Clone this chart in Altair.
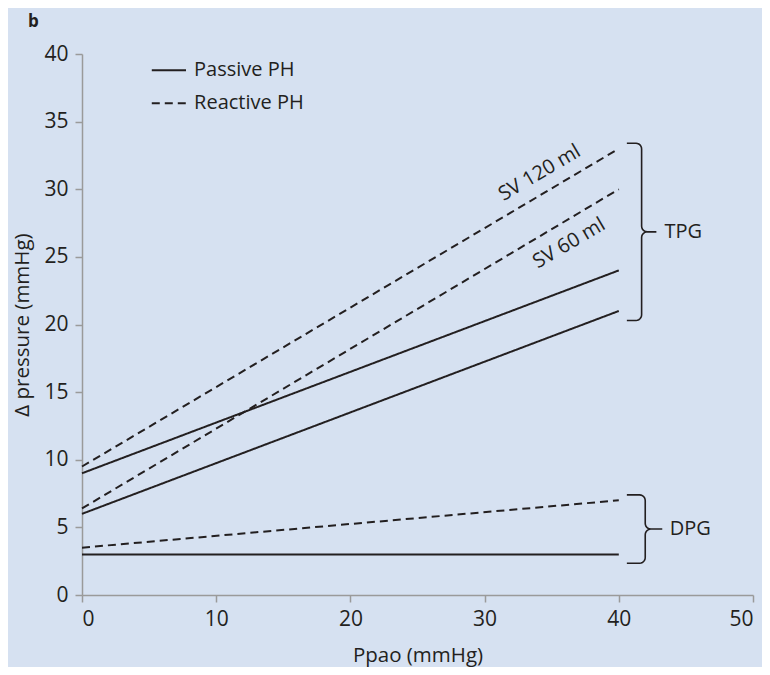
import altair as alt
import pandas as pd
import numpy as np

# ---- data ----
line_ids = ["P_high", "P_low", "P_dpg", "R_high", "R_low", "R_dpg"]
line_type = ["Passive PH", "Passive PH", "Passive PH", "Reactive PH", "Reactive PH", "Reactive PH"]
x_from = [0, 0, 0, 0, 0, 0]
x_to = [40, 40, 40, 40, 40, 40]
y_from = [9, 6, 3, 9.5, 6.4, 3.5]
y_to = [24, 21, 3, 33, 30, 7]

legend_labels = ["Passive PH", "Reactive PH"]
legend_y = [38.8, 36.35]
legend_x0 = [5.2, 5.2]
legend_x1 = [7.75, 7.75]
legend_tx = [8.35, 8.35]

sv_labels = ["SV 120 ml", "SV 60 ml"]
sv_x = [34.1, 36.3]
sv_y = [31.2, 26.0]

brace_labels = ["TPG", "DPG"]
brace_top = [33.4, 7.4]
brace_bottom = [20.3, 2.35]
brace_left = [40.6, 40.6]
brace_spine = [41.7, 41.97]
brace_tip = [42.8, 43.24]
brace_text_x = [43.4, 43.8]

FONT = "Open Sans"
FS = 20
INK = "#231f20"
AXIS = "#9a9a9a"
BG = "#d6e1f1"

# ---- tables ----
rows = []
for i, lid in enumerate(line_ids):
    rows.append({"id": lid, "type": line_type[i], "x": x_from[i], "y": y_from[i], "o": 0})
    rows.append({"id": lid, "type": line_type[i], "x": x_to[i], "y": y_to[i], "o": 1})
lines_df = pd.DataFrame(rows)

leg_rows = []
for i, lab in enumerate(legend_labels):
    leg_rows.append({"id": lab, "type": lab, "x": legend_x0[i], "y": legend_y[i], "o": 0})
    leg_rows.append({"id": lab, "type": lab, "x": legend_x1[i], "y": legend_y[i], "o": 1})
leg_df = pd.DataFrame(leg_rows)
leg_txt = pd.DataFrame({"x": legend_tx, "y": legend_y, "t": legend_labels})

sv_df = pd.DataFrame({"x": sv_x, "y": sv_y, "t": sv_labels})


def brace_points(name, top, bot, left, spine, tip, r=0.42, n=6):
    mid = (top + bot) / 2.0
    pts = []
    pts.append((left, top))
    for k in range(n + 1):
        a = np.pi / 2 * (1 - k / n)
        pts.append((spine - r + r * np.cos(a), top - r + r * np.sin(a)))
    for k in range(n + 1):
        a = np.pi - np.pi / 2 * (k / n)
        pts.append((spine + r + r * np.cos(a), mid + r - r * np.sin(a)))
    pts.append((tip, mid))
    pts.append((spine + r, mid))
    for k in range(n + 1):
        a = np.pi / 2 + np.pi / 2 * (k / n)
        pts.append((spine + r + r * np.cos(a), mid - r + r * np.sin(a)))
    for k in range(n + 1):
        a = np.pi / 2 * (k / n)
        pts.append((spine - r + r * np.cos(a), bot + r - r * np.sin(a)))
    pts.append((left, bot))
    return [{"id": name, "x": float(px), "y": float(py), "o": j} for j, (px, py) in enumerate(pts)]


brace_rows = []
for i, lab in enumerate(brace_labels):
    brace_rows += brace_points(lab, brace_top[i], brace_bottom[i], brace_left[i], brace_spine[i], brace_tip[i])
brace_df = pd.DataFrame(brace_rows)
brace_txt = pd.DataFrame({
    "x": brace_text_x,
    "y": [(t + b) / 2 for t, b in zip(brace_top, brace_bottom)],
    "t": brace_labels,
})

xscale = alt.Scale(domain=[0, 50], nice=False)
yscale = alt.Scale(domain=[0, 40], nice=False)
dash_scale = alt.Scale(domain=["Passive PH", "Reactive PH"], range=[[1, 0], [8, 5]])

xaxis = alt.Axis(title="Ppao (mmHg)", values=[0, 10, 20, 30, 40, 50], grid=False,
                 tickSize=7, labelPadding=6, titlePadding=16)
yaxis = alt.Axis(title="Δ pressure (mmHg)", values=[0, 5, 10, 15, 20, 25, 30, 35, 40], grid=False,
                 tickSize=7, labelPadding=7, titlePadding=11)

base_lines = alt.Chart(lines_df).mark_line(color=INK, strokeWidth=2).encode(
    x=alt.X("x:Q", scale=xscale, axis=xaxis),
    y=alt.Y("y:Q", scale=yscale, axis=yaxis),
    detail="id:N",
    order="o:Q",
    strokeDash=alt.StrokeDash("type:N", scale=dash_scale, legend=None),
)

legend_lines = alt.Chart(leg_df).mark_line(color=INK, strokeWidth=2).encode(
    x="x:Q", y="y:Q", detail="id:N", order="o:Q",
    strokeDash=alt.StrokeDash("type:N", scale=dash_scale, legend=None),
)
legend_text = alt.Chart(leg_txt).mark_text(align="left", baseline="middle", font=FONT,
                                           fontSize=FS, color=INK).encode(
    x="x:Q", y="y:Q", text="t:N")

sv_text = alt.Chart(sv_df).mark_text(align="center", baseline="middle", font=FONT,
                                     fontSize=FS, color=INK, angle=329.5).encode(
    x="x:Q", y="y:Q", text="t:N")

braces = alt.Chart(brace_df).mark_line(color=INK, strokeWidth=1.6).encode(
    x="x:Q", y="y:Q", detail="id:N", order="o:Q")
brace_text = alt.Chart(brace_txt).mark_text(align="left", baseline="middle", font=FONT,
                                            fontSize=FS, color=INK).encode(
    x="x:Q", y="y:Q", text="t:N")

panel = alt.Chart(pd.DataFrame({"t": ["b"]})).mark_text(
    align="left", baseline="alphabetic", font=FONT, fontSize=17, fontWeight="bold", color=INK
).encode(x=alt.value(-54), y=alt.value(-27), text="t:N")

chart = alt.layer(base_lines, legend_lines, legend_text, sv_text, braces, brace_text, panel).properties(
    width=671, height=541,
    autosize=alt.AutoSizeParams(type="none"),
    padding={"left": 74, "top": 46, "right": 9, "bottom": 72},
    background=BG,
).configure_view(stroke=None).configure_axis(
    domainColor=AXIS, domainWidth=1.5, tickColor=AXIS, tickWidth=1.5,
    labelFont=FONT, labelFontSize=21, labelColor=INK,
    titleFont=FONT, titleFontSize=20.5, titleColor=INK, titleFontWeight="normal",
)

chart.save("out.html", embed_options={"renderer": "svg", "actions": False})
